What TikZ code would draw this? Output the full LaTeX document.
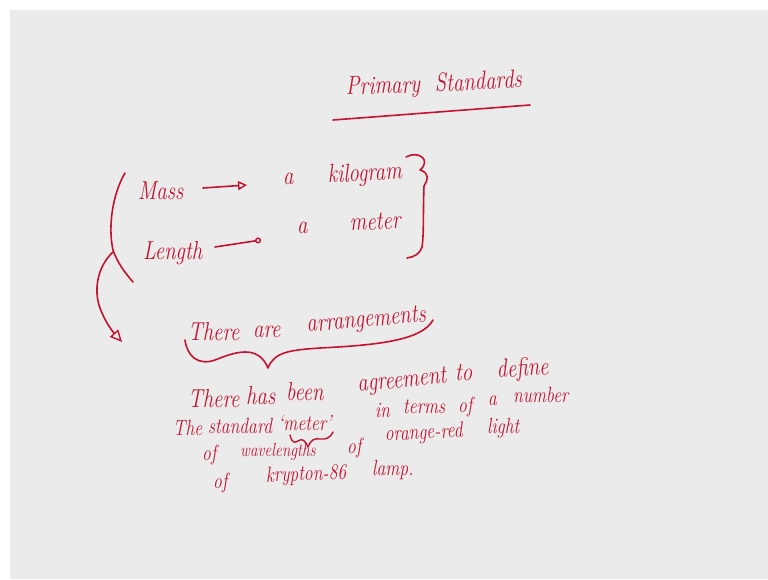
\documentclass[tikz,border=0pt]{standalone}
\usetikzlibrary{arrows.meta}
\definecolor{ink}{RGB}{196,18,48}
\definecolor{board}{RGB}{235,235,235}
% narrow, tall letters, like quick handwriting
\newcommand\sq[1]{\scalebox{0.8}[1]{#1}}
\tikzset{
  hw/.style={text=ink, inner sep=0pt, anchor=base west, font=\fontsize{26}{30}\selectfont\itshape},
  hwsmall/.style={hw, font=\fontsize{22}{26}\selectfont\itshape},
  hwtiny/.style={hw, font=\fontsize{19}{22}\selectfont\itshape},
  pen/.style={draw=ink, line width=1.6pt, line cap=round, line join=round},
  trihead/.style={pen, -{Triangle[open, length=9pt, width=9pt, line width=1.4pt]}},
  ringhead/.style={pen, -{Circle[open, length=6pt, width=6pt, line width=1.4pt]}},
  downhead/.style={pen, -{Triangle[open, length=12pt, width=11pt, line width=1.4pt]}}
}
\begin{document}
\begin{tikzpicture}[x=1pt, y=-1pt]
  % board
  \fill[white] (0,0) rectangle (768,579);
  \fill[board] (10,10) rectangle (768,579);
  \useasboundingbox (0,0) rectangle (768,579);

  % title
  \node[hw, rotate=2] (tPrimary) at (346,95) {\sq{Primary}};
  \node[hw, rotate=3] (tStandards) at (435,92) {\sq{Standards}};
  \coordinate (ulA) at (333,120);
  \coordinate (ulB) at (530,105);
  \draw[pen] (ulA) -- (ulB);

  % quantities and their units
  \node[hw] (mass) at (138,199) {\sq{Mass}};
  \node[hw] (aone) at (283,184) {\sq{a}};
  \node[hw, rotate=3] (kilogram) at (328,183) {\sq{kilogram}};
  \node[hw] (length) at (143,259) {\sq{Length}};
  \node[hw] (atwo) at (297,233) {\sq{a}};
  \node[hw, rotate=3] (meter) at (350,231) {\sq{meter}};

  \coordinate (mA) at (203,188);
  \coordinate (mB) at (247,185);
  \draw[trihead] (mA) -- (mB);
  \coordinate (lA) at (215,247);
  \coordinate (lB) at (261,240);
  \draw[ringhead] (lA) -- (lB);

  % grouping brace on the right
  \draw[pen] (406,157) .. controls (418,150) and (432,160) .. (420,170)
             .. controls (430,173) and (428,180) .. (424,186)
             .. controls (423,210) and (424,235) .. (422,247)
             .. controls (420,254) and (414,257) .. (407,258);

  % bracket on the left, with its branch arrow
  \draw[pen] (125,173) .. controls (112,195) and (108,228) .. (113,250)
             .. controls (117,262) and (125,273) .. (133,282);
  \coordinate (brA) at (113,252);
  \coordinate (brB) at (122,342);
  \draw[downhead] (brA) .. controls (96,268) and (94,292) .. (100,308)
                  .. controls (105,322) and (113,332) .. (brB);

  % statement
  \node[hw] (there) at (188,340) {\sq{There}};
  \node[hw] (are) at (253,337) {\sq{are}};
  \node[hw, rotate=5] (arrangements) at (307,332) {\sq{arrangements}};

  % big underbrace
  \draw[pen] (185,340) .. controls (187,356) and (198,366) .. (215,360)
             .. controls (235,352) and (258,344) .. (268,368)
             .. controls (274,352) and (290,350) .. (320,348)
             .. controls (380,345) and (422,340) .. (433,320);

  % explanation, line 1
  \node[hw] (w1) at (188,407) {\sq{There}};
  \node[hw] (w2) at (246,404) {\sq{has}};
  \node[hw] (w3) at (286,400) {\sq{been}};
  \node[hw, rotate=6] (w4) at (358,392) {\sq{agreement}};
  \node[hw] (w5) at (455,380) {\sq{to}};
  \node[hw, rotate=4] (w6) at (497,378) {\sq{define}};

  % line 2
  \node[hwsmall] (w7) at (173,435) {\sq{The}};
  \node[hwsmall] (w8) at (208,433) {\sq{standard}};
  \node[hwsmall] (w9) at (278,430) {\sq{`meter'}};
  \node[hwsmall] (w10) at (375,417) {\sq{in}};
  \node[hwsmall] (w11) at (403,413) {\sq{terms}};
  \node[hwsmall] (w12) at (458,412) {\sq{of}};
  \node[hwsmall] (w13) at (488,405) {\sq{a}};
  \node[hwsmall] (w14) at (513,402) {\sq{number}};

  % small underbrace
  \draw[pen, line width=1.4pt] (290,435) .. controls (291,441) and (294,444) .. (298,441)
             .. controls (302,438) and (305,440) .. (308,447)
             .. controls (311,440) and (314,438) .. (320,439)
             .. controls (326,440) and (331,437) .. (333,432);

  % line 3
  \node[hwsmall] (w15) at (202,460) {\sq{of}};
  \node[hwtiny] (w16) at (240,456) {\sq{wavelengths}};
  \node[hwsmall] (w17) at (347,453) {\sq{of}};
  \node[hwsmall, rotate=3] (w18) at (385,441) {\sq{orange-red}};
  \node[hwsmall] (w19) at (487,433) {\sq{light}};

  % line 4
  \node[hwsmall] (w20) at (213,488) {\sq{of}};
  \node[hwsmall, rotate=2] (w21) at (266,482) {\sq{krypton-86}};
  \node[hwsmall] (w22) at (372,475) {\sq{lamp.}};
\end{tikzpicture}
\end{document}
